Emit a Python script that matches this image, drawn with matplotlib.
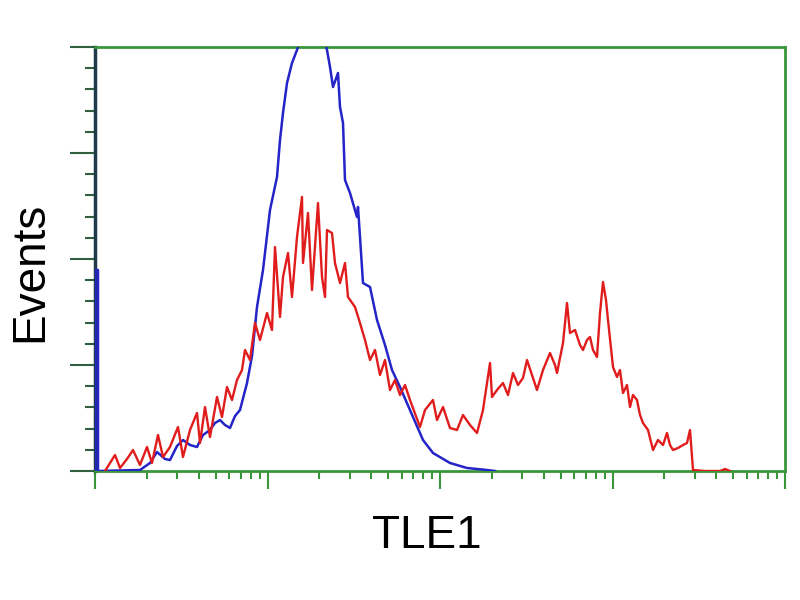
import matplotlib
matplotlib.use("Agg")
import matplotlib.pyplot as plt
import numpy as np

# channel (4-decade log scale, 172.5 channels per decade) and event counts
blue_ch = [0, 0, 3, 3, 45, 55, 62, 70, 75, 82, 88, 95, 102, 108, 115, 120, 125, 130,
           135, 140, 145, 152, 157, 162, 168, 175, 182, 185, 188, 192, 197, 202, 210,
           217, 225, 232, 235, 238, 243, 245, 248, 250, 255, 262, 263, 265, 268, 275,
           282, 290, 297, 305, 318, 328, 338, 355, 372, 392, 400]
blue_cnt = [0, 201, 201, 0, 1, 8, 19, 12, 11, 25, 31, 26, 24, 36, 41, 48, 51, 46,
            43, 55, 61, 88, 115, 164, 201, 261, 294, 331, 358, 388, 408, 421, 445,
            460, 450, 421, 404, 384, 398, 364, 348, 291, 278, 254, 264, 234, 188, 184,
            151, 126, 101, 84, 54, 31, 18, 8, 3, 1, 0]

red_ch = [10, 15, 20, 25, 32, 38, 45, 52, 57, 63, 68, 75, 83, 88, 95, 102, 105, 110,
          115, 122, 127, 132, 137, 142, 147, 150, 155, 160, 165, 172, 177, 180, 185,
          188, 193, 197, 202, 207, 208, 213, 217, 223, 227, 230, 232, 237, 240, 245,
          250, 253, 260, 265, 270, 275, 280, 285, 290, 295, 300, 305, 310, 315, 325,
          330, 338, 342, 348, 355, 362, 368, 375, 382, 388, 395, 397, 402, 408, 413,
          418, 423, 428, 432, 437, 442, 448, 455, 460, 462, 468, 472, 475, 480, 485,
          488, 492, 495, 498, 502, 505, 508, 511, 513, 518, 522, 525, 528, 532, 535,
          538, 542, 545, 548, 553, 558, 563, 568, 572, 575, 578, 583, 588, 592, 595,
          598, 610, 625, 630, 635]
red_cnt = [0, 8, 16, 3, 12, 21, 6, 24, 8, 36, 14, 24, 44, 14, 41, 58, 28, 64,
           34, 74, 54, 84, 71, 91, 101, 121, 111, 148, 131, 158, 141, 224, 154,
           194, 218, 174, 234, 274, 208, 258, 181, 268, 194, 174, 241, 238, 208, 188,
           208, 174, 164, 148, 131, 111, 121, 96, 111, 81, 91, 76, 86, 71, 44,
           61, 71, 51, 64, 43, 41, 56, 46, 38, 61, 108, 74, 81, 88, 76,
           98, 86, 93, 111, 96, 81, 101, 118, 106, 98, 128, 168, 138, 141, 126,
           121, 131, 134, 121, 114, 158, 189, 171, 151, 104, 94, 101, 78, 86, 64,
           76, 71, 56, 48, 41, 21, 31, 26, 38, 26, 21, 23, 26, 28, 41,
           1, 0, 0, 2, 0]

decade = 172.5
green = "#3a963a"

fig = plt.figure(figsize=(8, 6), dpi=100)
ax = fig.add_axes([95 / 800, 129 / 600, 690 / 800, 424 / 600])

ax.plot(blue_ch, blue_cnt, color="#2424c8", linewidth=1.8, zorder=3)
ax.plot(red_ch, red_cnt, color="#e01c1c", linewidth=1.7, zorder=3)

ax.set_xlim(0, 4 * decade)
ax.set_ylim(0, 424)

# log style ticks on the channel axis
major_x = [d * decade for d in range(5)]
minor_x = [decade * (d + np.log10(k)) for d in range(4) for k in range(2, 10)]
ax.set_xticks(major_x)
ax.set_xticks(minor_x, minor=True)
ax.set_yticks(np.linspace(0, 424, 5))
ax.set_yticks(np.linspace(0, 424, 21), minor=True)
ax.set_xticklabels([])
ax.set_yticklabels([])

ax.tick_params(axis="x", which="major", direction="out", length=13, width=1.5, color=green)
ax.tick_params(axis="x", which="minor", direction="out", length=6, width=1.5, color=green)
ax.tick_params(axis="y", which="major", direction="out", length=18, width=1.5, color="#2f5f3f")
ax.tick_params(axis="y", which="minor", direction="out", length=7, width=1.5, color="#2f5f3f")

for s in ["top", "right", "bottom"]:
    ax.spines[s].set_color(green)
    ax.spines[s].set_linewidth(2)
ax.spines["left"].set_color("#1f3a4a")
ax.spines["left"].set_linewidth(2.5)

fig.text(30 / 800, 1 - 272 / 600, "Events", rotation=90, ha="center", va="center",
         fontsize=33, family="Liberation Sans")
fig.text(427 / 800, 1 - 536 / 600, "TLE1", ha="center", va="center",
         fontsize=33, family="Liberation Sans")

fig.savefig("out.png", dpi=100)
